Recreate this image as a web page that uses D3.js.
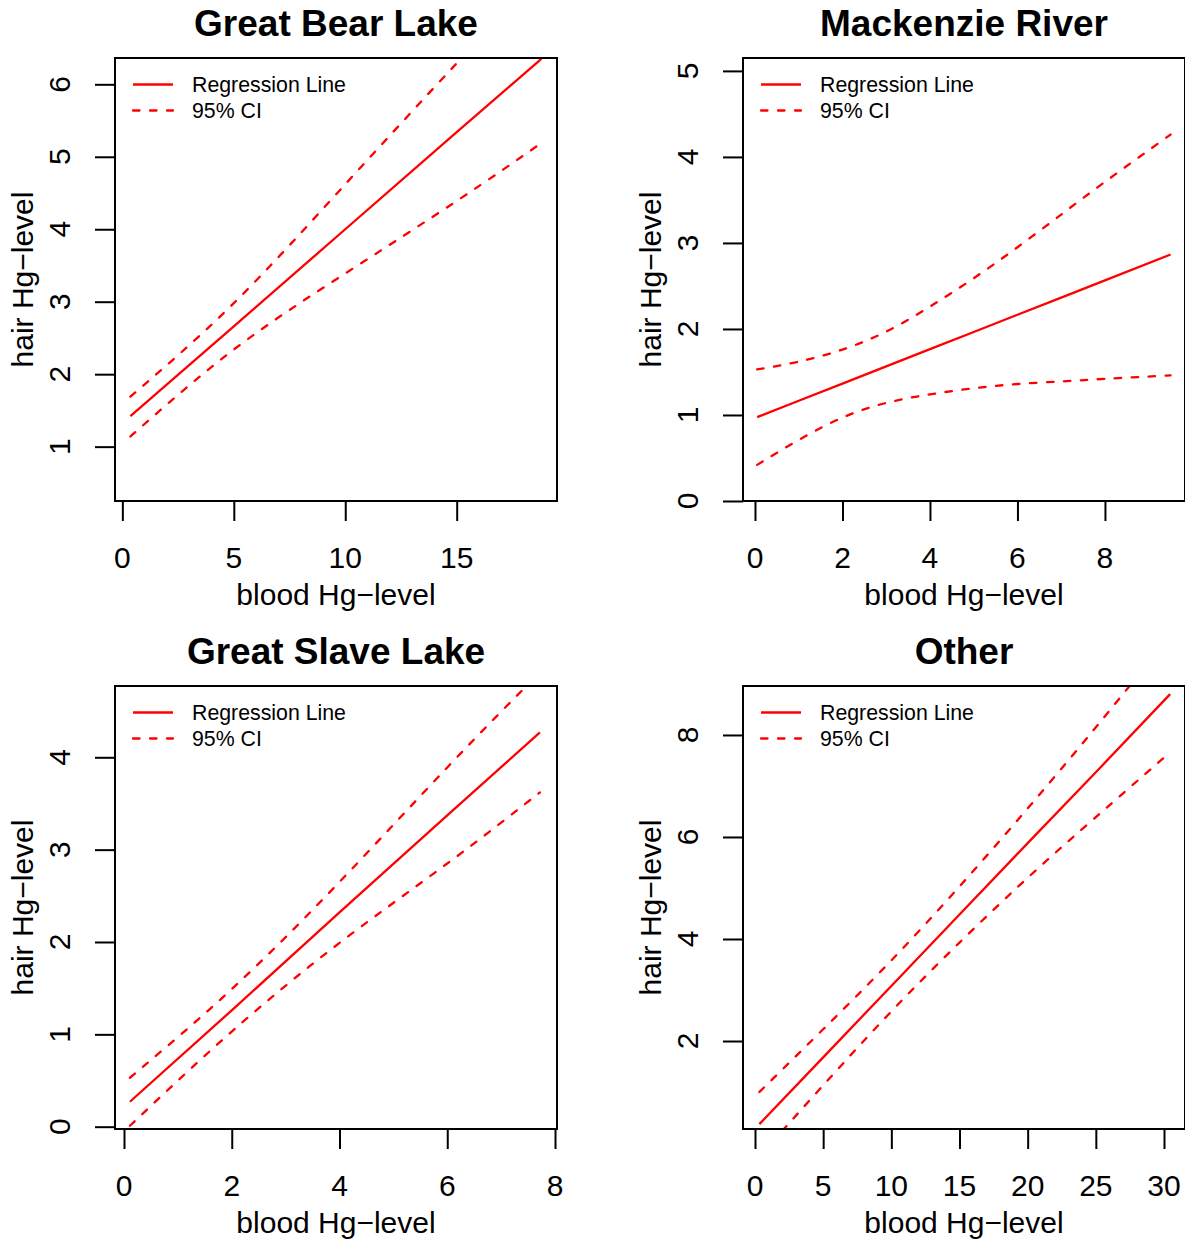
<!DOCTYPE html>
<html>
<head>
<meta charset="utf-8">
<script src="https://cdn.jsdelivr.net/npm/d3@7"></script>
<style>
  html, body { margin: 0; padding: 0; background: #fff; }
  svg { display: block; }
  text { font-family: "Liberation Sans", Arial, Helvetica, sans-serif; fill: #000; }
</style>
</head>
<body>
<svg id="chart" width="1185" height="1243"></svg>
<script>
// Hair vs. blood mercury: fitted regression line with 95% confidence band, per region.
const panelTitles = ["Great Bear Lake", "Mackenzie River", "Great Slave Lake", "Other"];

// Plot-region limits (data units) and axis ticks for each panel
const xLimits = [[-0.33, 19.5], [-0.274, 9.83], [-0.167, 8.037], [-0.88, 31.54]];
const yLimits = [[0.25, 6.363], [0, 5.15], [-0.025, 4.772], [0.275, 8.96]];
const xTicks = [[0, 5, 10, 15], [0, 2, 4, 6, 8], [0, 2, 4, 6, 8], [0, 5, 10, 15, 20, 25, 30]];
const yTicks = [[1, 2, 3, 4, 5, 6], [0, 1, 2, 3, 4, 5], [0, 1, 2, 3, 4], [2, 4, 6, 8]];

// Great Bear Lake
const gblBlood = [0.36, 5, 10, 15, 18.8];
const gblFit   = [1.42, 2.66, 4.00, 5.34, 6.35];
const gblUpper = [1.69, 2.98, 4.62, 6.29, 7.52];
const gblLower = [1.14, 2.34, 3.39, 4.39, 5.19];

// Mackenzie River
const mrBlood = [0.05, 1, 2, 3, 4, 5, 6, 7, 8, 9.5];
const mrFit   = [0.975, 1.165, 1.365, 1.565, 1.765, 1.965, 2.165, 2.365, 2.565, 2.865];
const mrUpper = [1.53, 1.62, 1.76, 1.97, 2.26, 2.59, 2.95, 3.33, 3.71, 4.26];
const mrLower = [0.42, 0.71, 0.97, 1.14, 1.24, 1.31, 1.36, 1.39, 1.42, 1.46];

// Great Slave Lake
const gslBlood = [0.11, 2, 4, 6, 7.72];
const gslFit   = [0.27, 1.26, 2.32, 3.37, 4.27];
const gslUpper = [0.53, 1.49, 2.65, 3.89, 4.92];
const gslLower = [0.01, 1.03, 1.99, 2.85, 3.62];

// Other
const othBlood = [0.32, 5, 10, 15, 20, 25, 30.45];
const othFit   = [0.37, 1.68, 3.08, 4.48, 5.88, 7.27, 8.80];
const othUpper = [1.00, 2.23, 3.58, 5.03, 6.56, 8.15, 9.94];
const othLower = [-0.26, 1.13, 2.58, 3.93, 5.20, 6.39, 7.66];

const legendLabels = ["Regression Line", "95% CI"];
const xTitle = "blood Hg\u2212level";
const yTitle = "hair Hg\u2212level";

const series = [
  { x: gblBlood, fit: gblFit, upper: gblUpper, lower: gblLower },
  { x: mrBlood,  fit: mrFit,  upper: mrUpper,  lower: mrLower },
  { x: gslBlood, fit: gslFit, upper: gslUpper, lower: gslLower },
  { x: othBlood, fit: othFit, upper: othUpper, lower: othLower }
];

// Layout
const boxW = 442, boxH = 443;
const origins = [[115, 58], [743, 58], [115, 686], [743, 686]];
const red = "#ff0000";
const dash = "6.5,10.5";

const svg = d3.select("#chart");

series.forEach((s, i) => {
  const [left, top] = origins[i];
  const g = svg.append("g").attr("transform", `translate(${left},${top})`);

  const x = d3.scaleLinear().domain(xLimits[i]).range([0, boxW]);
  const y = d3.scaleLinear().domain(yLimits[i]).range([boxH, 0]);

  const clipId = `clip-${i}`;
  g.append("clipPath").attr("id", clipId)
    .append("rect").attr("x", 0).attr("y", 0).attr("width", boxW).attr("height", boxH);

  // Axes: ticks through d3 axes, labels rotated on the left in the classic style
  const xAxis = d3.axisBottom(x).tickValues(xTicks[i]).tickSize(20).tickSizeOuter(0).tickFormat("");
  const gx = g.append("g").attr("transform", `translate(0,${boxH})`).call(xAxis);
  gx.select(".domain").remove();
  gx.selectAll(".tick line").attr("stroke", "#000").attr("stroke-width", 2);

  const yAxis = d3.axisLeft(y).tickValues(yTicks[i]).tickSize(20).tickSizeOuter(0).tickFormat("");
  const gy = g.append("g").call(yAxis);
  gy.select(".domain").remove();
  gy.selectAll(".tick line").attr("stroke", "#000").attr("stroke-width", 2);

  g.selectAll(".xlab").data(xTicks[i]).join("text")
    .attr("class", "xlab")
    .attr("x", d => x(d)).attr("y", boxH + 67)
    .attr("text-anchor", "middle").attr("font-size", 30)
    .text(d => d);

  g.selectAll(".ylab").data(yTicks[i]).join("text")
    .attr("class", "ylab")
    .attr("transform", d => `translate(-45,${y(d)}) rotate(-90)`)
    .attr("text-anchor", "middle").attr("font-size", 30)
    .text(d => d);

  g.append("text")
    .attr("x", boxW / 2).attr("y", boxH + 104)
    .attr("text-anchor", "middle").attr("font-size", 30)
    .text(xTitle);

  g.append("text")
    .attr("transform", `translate(-82,${boxH / 2}) rotate(-90)`)
    .attr("text-anchor", "middle").attr("font-size", 30)
    .text(yTitle);

  g.append("text")
    .attr("x", boxW / 2).attr("y", -22)
    .attr("text-anchor", "middle").attr("font-size", 37).attr("font-weight", "bold")
    .text(panelTitles[i]);

  // Regression line and confidence band
  const pts = key => s.x.map((v, k) => [v, s[key][k]]);
  const fitLine = d3.line().x(d => x(d[0])).y(d => y(d[1]));
  const bandLine = d3.line().x(d => x(d[0])).y(d => y(d[1])).curve(d3.curveNatural);
  const lines = g.append("g").attr("clip-path", `url(#${clipId})`);

  lines.append("path").attr("d", fitLine(pts("fit")))
    .attr("fill", "none").attr("stroke", red).attr("stroke-width", 2.3);
  ["upper", "lower"].forEach(k => {
    lines.append("path").attr("d", bandLine(pts(k)))
      .attr("fill", "none").attr("stroke", red).attr("stroke-width", 2.3)
      .attr("stroke-dasharray", dash).attr("stroke-linecap", "round");
  });

  // Legend
  const lg = g.append("g");
  legendLabels.forEach((lab, k) => {
    const ly = 26.5 + k * 26;
    lg.append("line").attr("x1", 18).attr("x2", 58).attr("y1", ly).attr("y2", ly)
      .attr("stroke", red).attr("stroke-width", 2.3)
      .attr("stroke-dasharray", k === 1 ? dash : null)
      .attr("stroke-linecap", k === 1 ? "round" : "butt");
    lg.append("text").attr("x", 77).attr("y", ly + 7.5)
      .attr("font-size", 21.3).text(lab);
  });

  // Plot box
  g.append("rect").attr("x", 0).attr("y", 0).attr("width", boxW).attr("height", boxH)
    .attr("fill", "none").attr("stroke", "#000").attr("stroke-width", 2);
});
</script>
</body>
</html>
